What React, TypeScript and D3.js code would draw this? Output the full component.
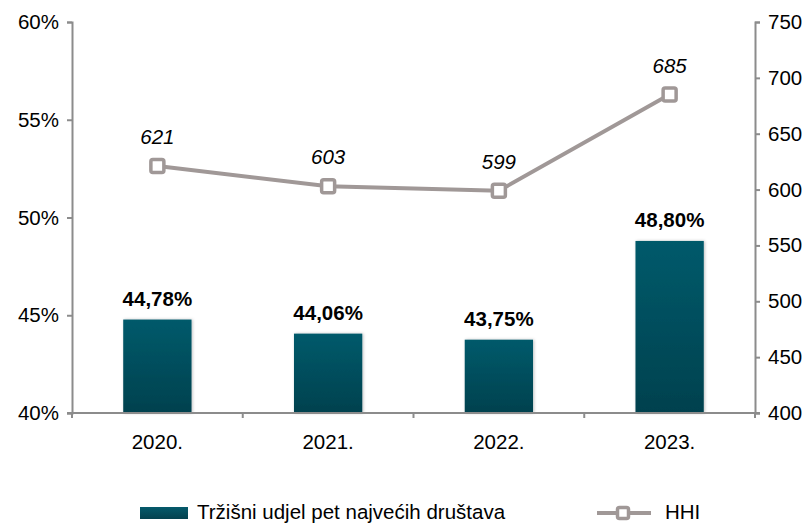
import React, { useEffect, useRef } from 'react';
import * as d3 from 'd3';

const categories = ['2020.', '2021.', '2022.', '2023.'];
const shareValues = [44.78, 44.06, 43.75, 48.8];
const shareLabels = ['44,78%', '44,06%', '43,75%', '48,80%'];
const hhiValues = [621, 603, 599, 685];
const leftTicks = [40, 45, 50, 55, 60];
const rightTicks = [400, 450, 500, 550, 600, 650, 700, 750];

const W = 811;
const H = 523;
const FONT = '"Liberation Sans", Arial, sans-serif';
const FS = 20.5;

const App = () => {
  const ref = useRef<SVGSVGElement>(null);

  useEffect(() => {
    const svg = d3.select(ref.current);
    svg.selectAll('*').remove();

    const left = 72;
    const right = 755;
    const top = 22;
    const bottom = 413;
    const axisColor = '#8c8c8c';
    const lineColor = '#a09897';

    const x = d3.scaleBand().domain(categories).range([left, right]).paddingInner(0.6).paddingOuter(0.3);
    const xc = (c: string) => (x(c) as number) + x.bandwidth() / 2;
    const yL = d3.scaleLinear().domain([40, 60]).range([bottom, top]);
    const yR = d3.scaleLinear().domain([400, 750]).range([bottom, top]);

    const defs = svg.append('defs');
    const grad = defs.append('linearGradient').attr('id', 'barGrad').attr('x1', 0).attr('y1', 0).attr('x2', 0).attr('y2', 1);
    grad.append('stop').attr('offset', '0%').attr('stop-color', '#055a6b');
    grad.append('stop').attr('offset', '100%').attr('stop-color', '#04414e');
    const f = defs.append('filter').attr('id', 'shadow').attr('x', '-20%').attr('y', '-20%').attr('width', '140%').attr('height', '140%');
    f.append('feDropShadow').attr('dx', 1).attr('dy', 0).attr('stdDeviation', 1.5).attr('flood-color', '#000').attr('flood-opacity', 0.25);

    // bars
    svg.append('g')
      .selectAll('rect')
      .data(shareValues)
      .join('rect')
      .attr('x', (_, i) => x(categories[i]) as number)
      .attr('y', (d) => yL(d))
      .attr('width', x.bandwidth())
      .attr('height', (d) => bottom - yL(d))
      .attr('fill', 'url(#barGrad)')
      .attr('filter', 'url(#shadow)');

    // bar labels
    svg.append('g')
      .selectAll('text')
      .data(shareValues)
      .join('text')
      .attr('x', (_, i) => xc(categories[i]))
      .attr('y', (d) => yL(d) - 14)
      .attr('text-anchor', 'middle')
      .attr('font-family', FONT)
      .attr('font-size', FS)
      .attr('font-weight', 'bold')
      .attr('fill', '#000')
      .text((_, i) => shareLabels[i]);

    // axes
    const leftAxis = svg.append('g')
      .attr('transform', `translate(${left},0)`)
      .call(d3.axisLeft(yL).tickValues(leftTicks).tickSize(5).tickPadding(8).tickFormat((d) => `${d}%`));
    const rightAxis = svg.append('g')
      .attr('transform', `translate(${right},0)`)
      .call(d3.axisRight(yR).tickValues(rightTicks).tickSize(5).tickPadding(8));
    const bottomAxis = svg.append('g')
      .attr('transform', `translate(0,${bottom})`)
      .call(d3.axisBottom(x).tickSize(0).tickPadding(21));

    [leftAxis, rightAxis, bottomAxis].forEach((g) => {
      g.select('.domain').attr('stroke', axisColor).attr('stroke-width', 2);
      g.selectAll('.tick line').attr('stroke', axisColor).attr('stroke-width', 2);
      g.selectAll('.tick text').attr('font-family', FONT).attr('font-size', FS).attr('fill', '#000');
    });
    bottomAxis.select('.domain').attr('d', `M${left - 5},0H${right + 5}`);

    // category separators on the bottom axis
    const bounds = d3.range(categories.length + 1).map((i) => left + (i * (right - left)) / categories.length);
    svg.append('g')
      .selectAll('line')
      .data(bounds)
      .join('line')
      .attr('x1', (d) => d)
      .attr('x2', (d) => d)
      .attr('y1', bottom)
      .attr('y2', bottom + 5)
      .attr('stroke', axisColor)
      .attr('stroke-width', 2);

    // HHI line
    const line = d3.line<number>()
      .x((_, i) => xc(categories[i]))
      .y((d) => yR(d));
    svg.append('path')
      .datum(hhiValues)
      .attr('d', line)
      .attr('fill', 'none')
      .attr('stroke', lineColor)
      .attr('stroke-width', 4);

    svg.append('g')
      .selectAll('rect')
      .data(hhiValues)
      .join('rect')
      .attr('x', (_, i) => xc(categories[i]) - 6.5)
      .attr('y', (d) => yR(d) - 6.5)
      .attr('width', 13)
      .attr('height', 13)
      .attr('rx', 2)
      .attr('fill', '#fff')
      .attr('stroke', lineColor)
      .attr('stroke-width', 3.5);

    svg.append('g')
      .selectAll('text')
      .data(hhiValues)
      .join('text')
      .attr('x', (_, i) => xc(categories[i]))
      .attr('y', (d) => yR(d) - 22)
      .attr('text-anchor', 'middle')
      .attr('font-family', FONT)
      .attr('font-size', FS)
      .attr('font-style', 'italic')
      .attr('fill', '#000')
      .text((d) => d);

    // legend
    const lg = svg.append('g');
    lg.append('rect').attr('x', 140).attr('y', 507).attr('width', 48).attr('height', 12).attr('fill', 'url(#barGrad)');
    lg.append('text').attr('x', 197).attr('y', 519).attr('font-family', FONT).attr('font-size', FS).text('Tržišni udjel pet najvećih društava');
    lg.append('line').attr('x1', 597).attr('x2', 651).attr('y1', 513).attr('y2', 513).attr('stroke', lineColor).attr('stroke-width', 4);
    lg.append('rect').attr('x', 617.5).attr('y', 507.5).attr('width', 11).attr('height', 11).attr('rx', 2)
      .attr('fill', '#fff').attr('stroke', lineColor).attr('stroke-width', 3.5);
    lg.append('text').attr('x', 665).attr('y', 519).attr('font-family', FONT).attr('font-size', FS).text('HHI');
  }, []);

  return (
    <svg
      ref={ref}
      width={W}
      height={H}
      style={{ position: 'absolute', left: 0, top: 0, background: '#fff' }}
    />
  );
};

export default App;
